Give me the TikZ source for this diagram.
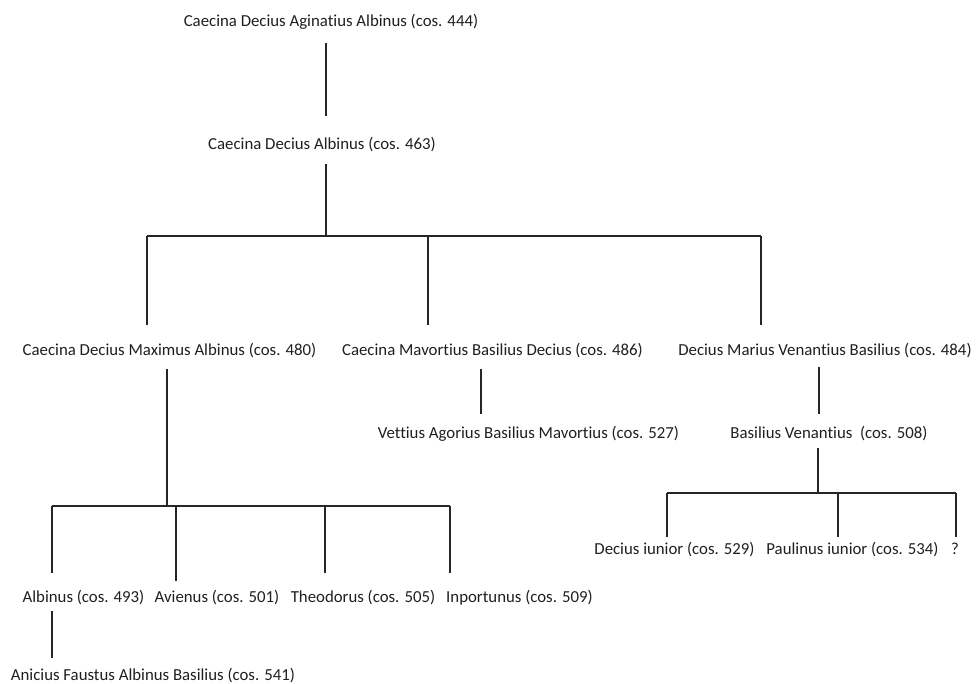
\documentclass[tikz,border=0pt]{standalone}
\usepackage{fontspec}
\setmainfont[Ligatures=NoCommon]{Carlito}
\begin{document}
\begin{tikzpicture}[x=0.75pt,y=-0.75pt,
  person/.style={inner sep=0pt, outer sep=0pt, text height=10pt, text depth=2pt,
                 font=\fontsize{12.6}{15}\selectfont, text=black!88},
  link/.style={draw=black!85, line width=1.1pt}]
\useasboundingbox (0,0) rectangle (976,684);

% people
\node[person] (t1) at (331,21)  {Caecina Decius Aginatius Albinus (cos. 444)};
\node[person] (t2) at (322,144) {Caecina Decius Albinus (cos. 463)};
\node[person] (t3) at (169.5,350) {Caecina Decius Maximus Albinus (cos. 480)};
\node[person] (t4) at (492.5,350) {Caecina Mavortius Basilius Decius (cos. 486)};
\node[person] (t5) at (825,350)  {Decius Marius Venantius Basilius (cos. 484)};
\node[person] (t6) at (528.5,433) {Vettius Agorius Basilius Mavortius (cos. 527)};
\node[person] (t7) at (829,433)  {Basilius Venantius\ \ (cos. 508)};
\node[person] (t8) at (674.5,549) {Decius iunior (cos. 529)};
\node[person] (t9) at (852.5,549) {Paulinus iunior (cos. 534)};
\node[person] (t10) at (955,549) {?};
\node[person] (a1) at (83.5,597) {Albinus (cos. 493)};
\node[person] (a2) at (217,597)  {Avienus (cos. 501)};
\node[person] (a3) at (363,597)  {Theodorus (cos. 505)};
\node[person] (a4) at (519.5,597) {Inportunus (cos. 509)};
\node[person] (a5) at (153,675)  {Anicius Faustus Albinus Basilius (cos. 541)};

% junction points of the family lines
\coordinate (j1) at (326,236);
\coordinate (k1) at (147,236);
\coordinate (k2) at (428,236);
\coordinate (k3) at (761,236);
\coordinate (m0) at (167,506);
\coordinate (m1) at (52,506);
\coordinate (m2) at (176,506);
\coordinate (m3) at (325,506);
\coordinate (m4) at (450,506);
\coordinate (p)  at (481,400);
\coordinate (q)  at (819,400);
\coordinate (n0) at (818,493);
\coordinate (n1) at (667,493);
\coordinate (n2) at (838,493);
\coordinate (n3) at (956,493);
\coordinate (r)  at (52,640);

% first two generations
\draw[link, shorten <=16.5pt, shorten >=21pt] (t1.center -| j1) -- (t2.center -| j1);
\draw[link, shorten <=15pt] (t2.center -| j1) -- (j1);
\draw[link] (k1) -- (k3);
\draw[link, shorten >=18.75pt] (k1) -- (k1 |- t3.center);
\draw[link, shorten >=18.75pt] (k2) -- (k2 |- t4.center);
\draw[link, shorten >=18.75pt] (k3) -- (k3 |- t5.center);

% sons of Caecina Decius Maximus Albinus
\draw[link, shorten <=14.25pt] (t3.center -| m0) -- (m0);
\draw[link] (m1) -- (m4);
\draw[link, shorten >=18pt] (m1) -- (m1 |- a1.center);
\draw[link, shorten >=12pt] (m2) -- (m2 |- a2.center);
\draw[link, shorten >=18pt] (m3) -- (m3 |- a3.center);
\draw[link, shorten >=18pt] (m4) -- (m4 |- a4.center);
\draw[link, shorten <=10.5pt, shorten >=12.75pt] (a1.center -| r) -- (a5.center -| r);

% other branches
\draw[link, shorten <=14.25pt, shorten >=14.25pt] (t4.center -| p) -- (t6.center -| p);
\draw[link, shorten <=12.75pt, shorten >=14.25pt] (t5.center -| q) -- (t7.center -| q);
\draw[link, shorten <=11.25pt] (t7.center -| n0) -- (n0);
\draw[link] (n1) -- (n3);
\draw[link, shorten >=9pt] (n1) -- (n1 |- t8.center);
\draw[link, shorten >=9pt] (n2) -- (n2 |- t9.center);
\draw[link, shorten >=9pt] (n3) -- (n3 |- t10.center);
\end{tikzpicture}
\end{document}
